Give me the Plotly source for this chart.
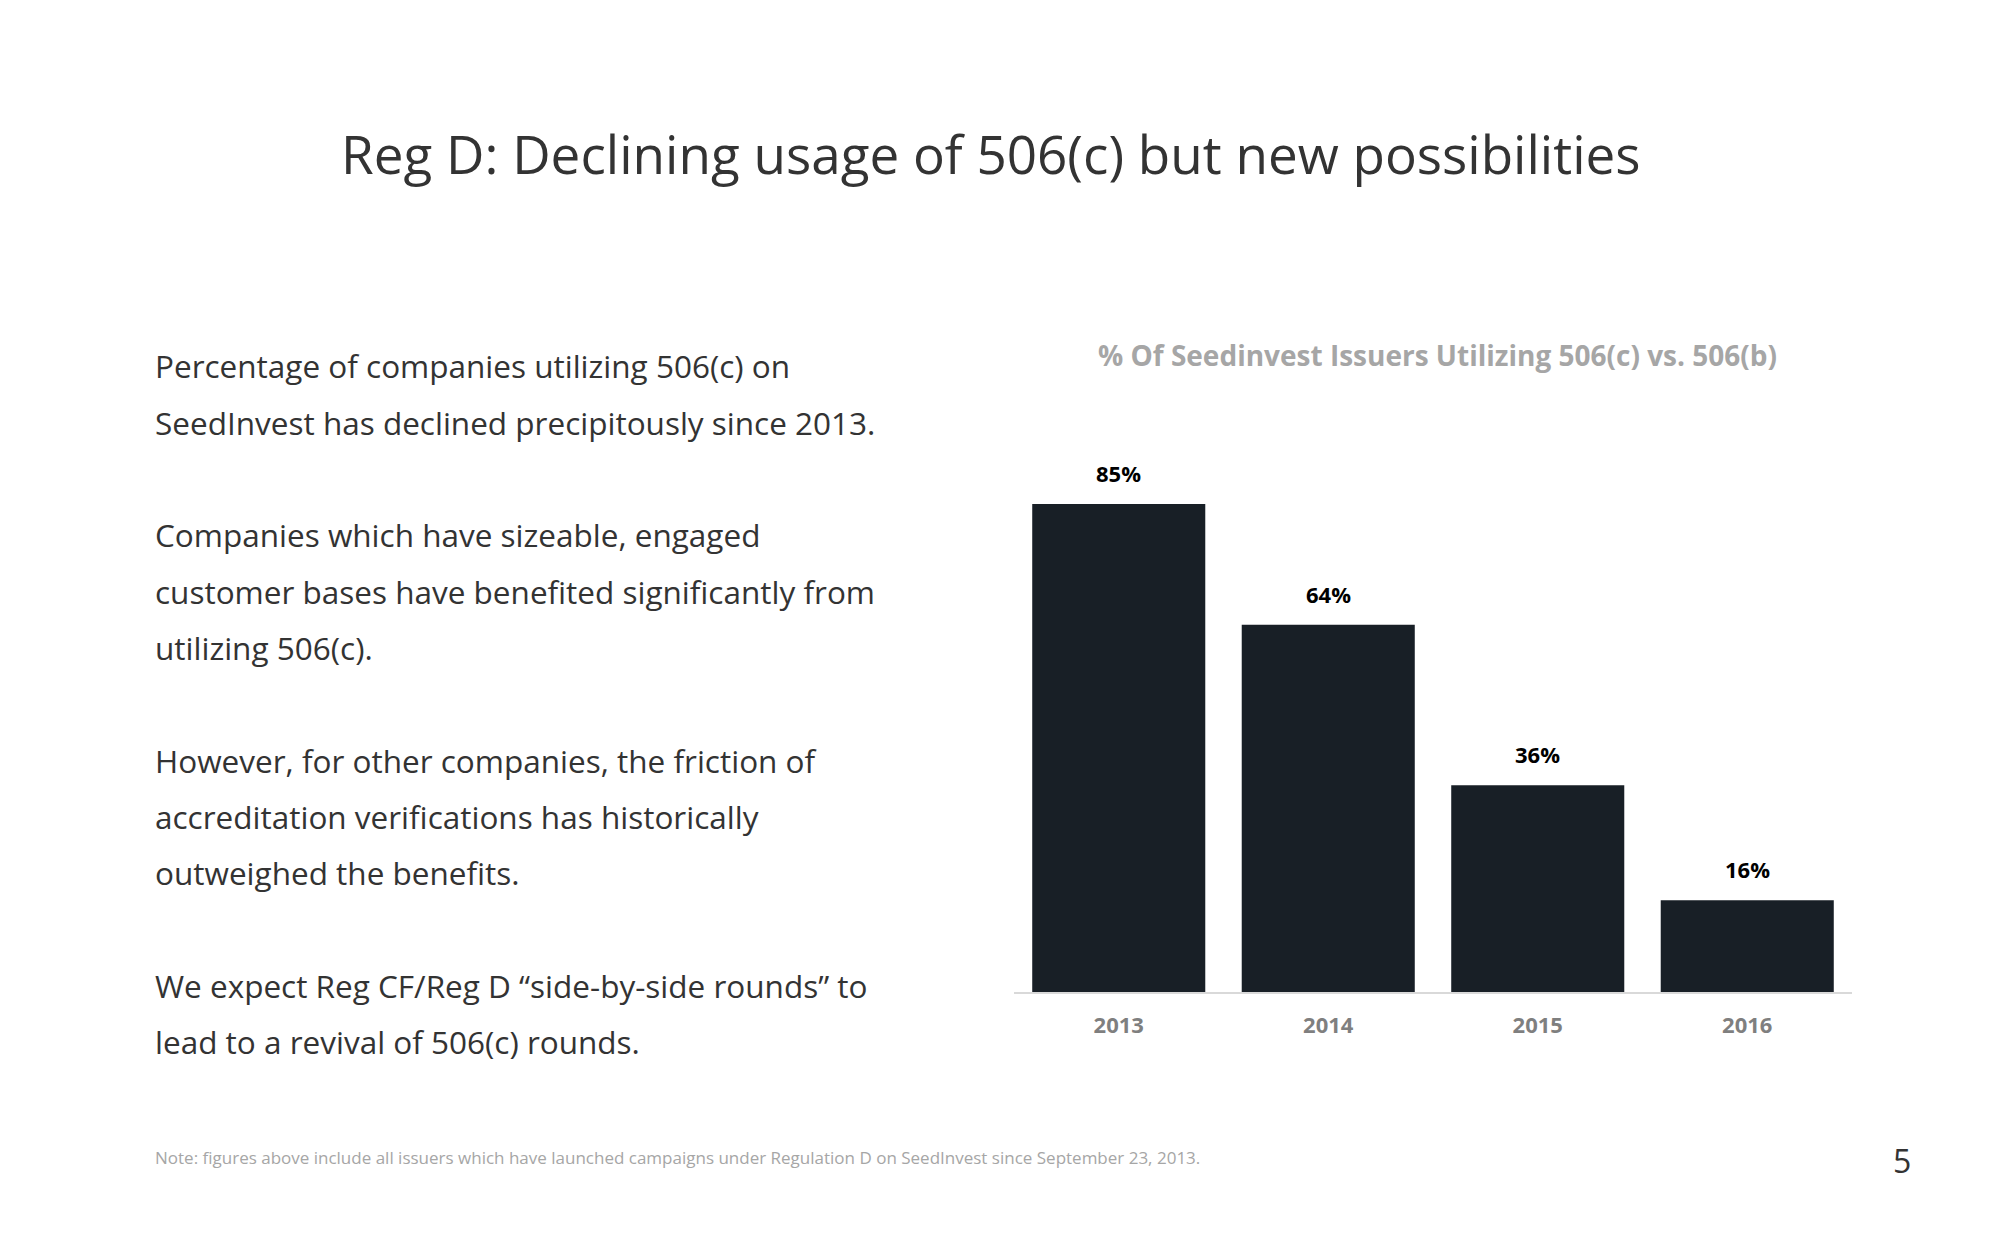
import plotly.graph_objects as go

years = ["2013", "2014", "2015", "2016"]
pct_506c = [85, 64, 36, 16]
pct_labels = ["85%", "64%", "36%", "16%"]

title_text = "Reg D: Declining usage of 506(c) but new possibilities"
chart_title = "% Of Seedinvest Issuers Utilizing 506(c) vs. 506(b)"
body_lines = [
    "Percentage of companies utilizing 506(c) on",
    "SeedInvest has declined precipitously since 2013.",
    "",
    "Companies which have sizeable, engaged",
    "customer bases have benefited significantly from",
    "utilizing 506(c).",
    "",
    "However, for other companies, the friction of",
    "accreditation verifications has historically",
    "outweighed the benefits.",
    "",
    "We expect Reg CF/Reg D \u201cside-by-side rounds\u201d to",
    "lead to a revival of 506(c) rounds.",
]
footnote = "Note: figures above include all issuers which have launched campaigns under Regulation D on SeedInvest since September 23, 2013."
page_no = "5"

W, H = 2000, 1250
FONT = "Open Sans"

fig = go.Figure()
fig.add_trace(go.Bar(
    x=years, y=pct_506c,
    marker=dict(color="#181f26", line=dict(width=0)),
    hoverinfo="skip",
))

annotations = []
# value labels: x given as the category index so numeric-looking category names are not misread
for idx, (v, lab) in enumerate(zip(pct_506c, pct_labels)):
    annotations.append(dict(
        x=idx, y=v, xref="x", yref="y", text="<b>" + lab + "</b>",
        showarrow=False, yanchor="bottom", yshift=14,
        font=dict(family=FONT, size=22, color="#000000"),
    ))

annotations.append(dict(
    x=991 / W, y=1 - 154 / H, xref="paper", yref="paper", text=title_text,
    showarrow=False, xanchor="center", yanchor="middle",
    font=dict(family=FONT, size=53, color="#333333"),
))
annotations.append(dict(
    x=1437 / W, y=1 - 355 / H, xref="paper", yref="paper", text="<b>" + chart_title + "</b>",
    showarrow=False, xanchor="center", yanchor="middle",
    font=dict(family=FONT, size=28, color="#a6a6a6"),
))
line_y0 = 366
for i, ln in enumerate(body_lines):
    if not ln:
        continue
    annotations.append(dict(
        x=153 / W, y=1 - (line_y0 + i * 56.3) / H, xref="paper", yref="paper", text=ln,
        showarrow=False, xanchor="left", yanchor="middle",
        font=dict(family=FONT, size=31.5, color="#333333"),
    ))
annotations.append(dict(
    x=153 / W, y=1 - 1157 / H, xref="paper", yref="paper", text=footnote,
    showarrow=False, xanchor="left", yanchor="middle",
    font=dict(family=FONT, size=17, color="#a6a6a6"),
))
annotations.append(dict(
    x=1902 / W, y=1 - 1160 / H, xref="paper", yref="paper", text=page_no,
    showarrow=False, xanchor="center", yanchor="middle",
    font=dict(family=FONT, size=32, color="#333333"),
))

fig.update_layout(
    width=W, height=H,
    margin=dict(l=0, r=0, t=0, b=0),
    paper_bgcolor="white", plot_bgcolor="white",
    showlegend=False,
    bargap=0.174,
    annotations=annotations,
    xaxis=dict(
        type="category",
        domain=[1014 / W, 1852 / W],
        range=[-0.5, len(years) - 0.5],
        showgrid=False, zeroline=False,
        showline=True, linecolor="#d9d9d9", linewidth=2,
        ticks="", tickfont=dict(family=FONT, size=22, color="#7f7f7f", weight="bold"),
        ticklabelstandoff=13,
    ),
    yaxis=dict(
        domain=[1 - 992 / H, 1 - 418 / H],
        range=[0, 100],
        visible=False,
    ),
)

fig.write_html("out.html")
